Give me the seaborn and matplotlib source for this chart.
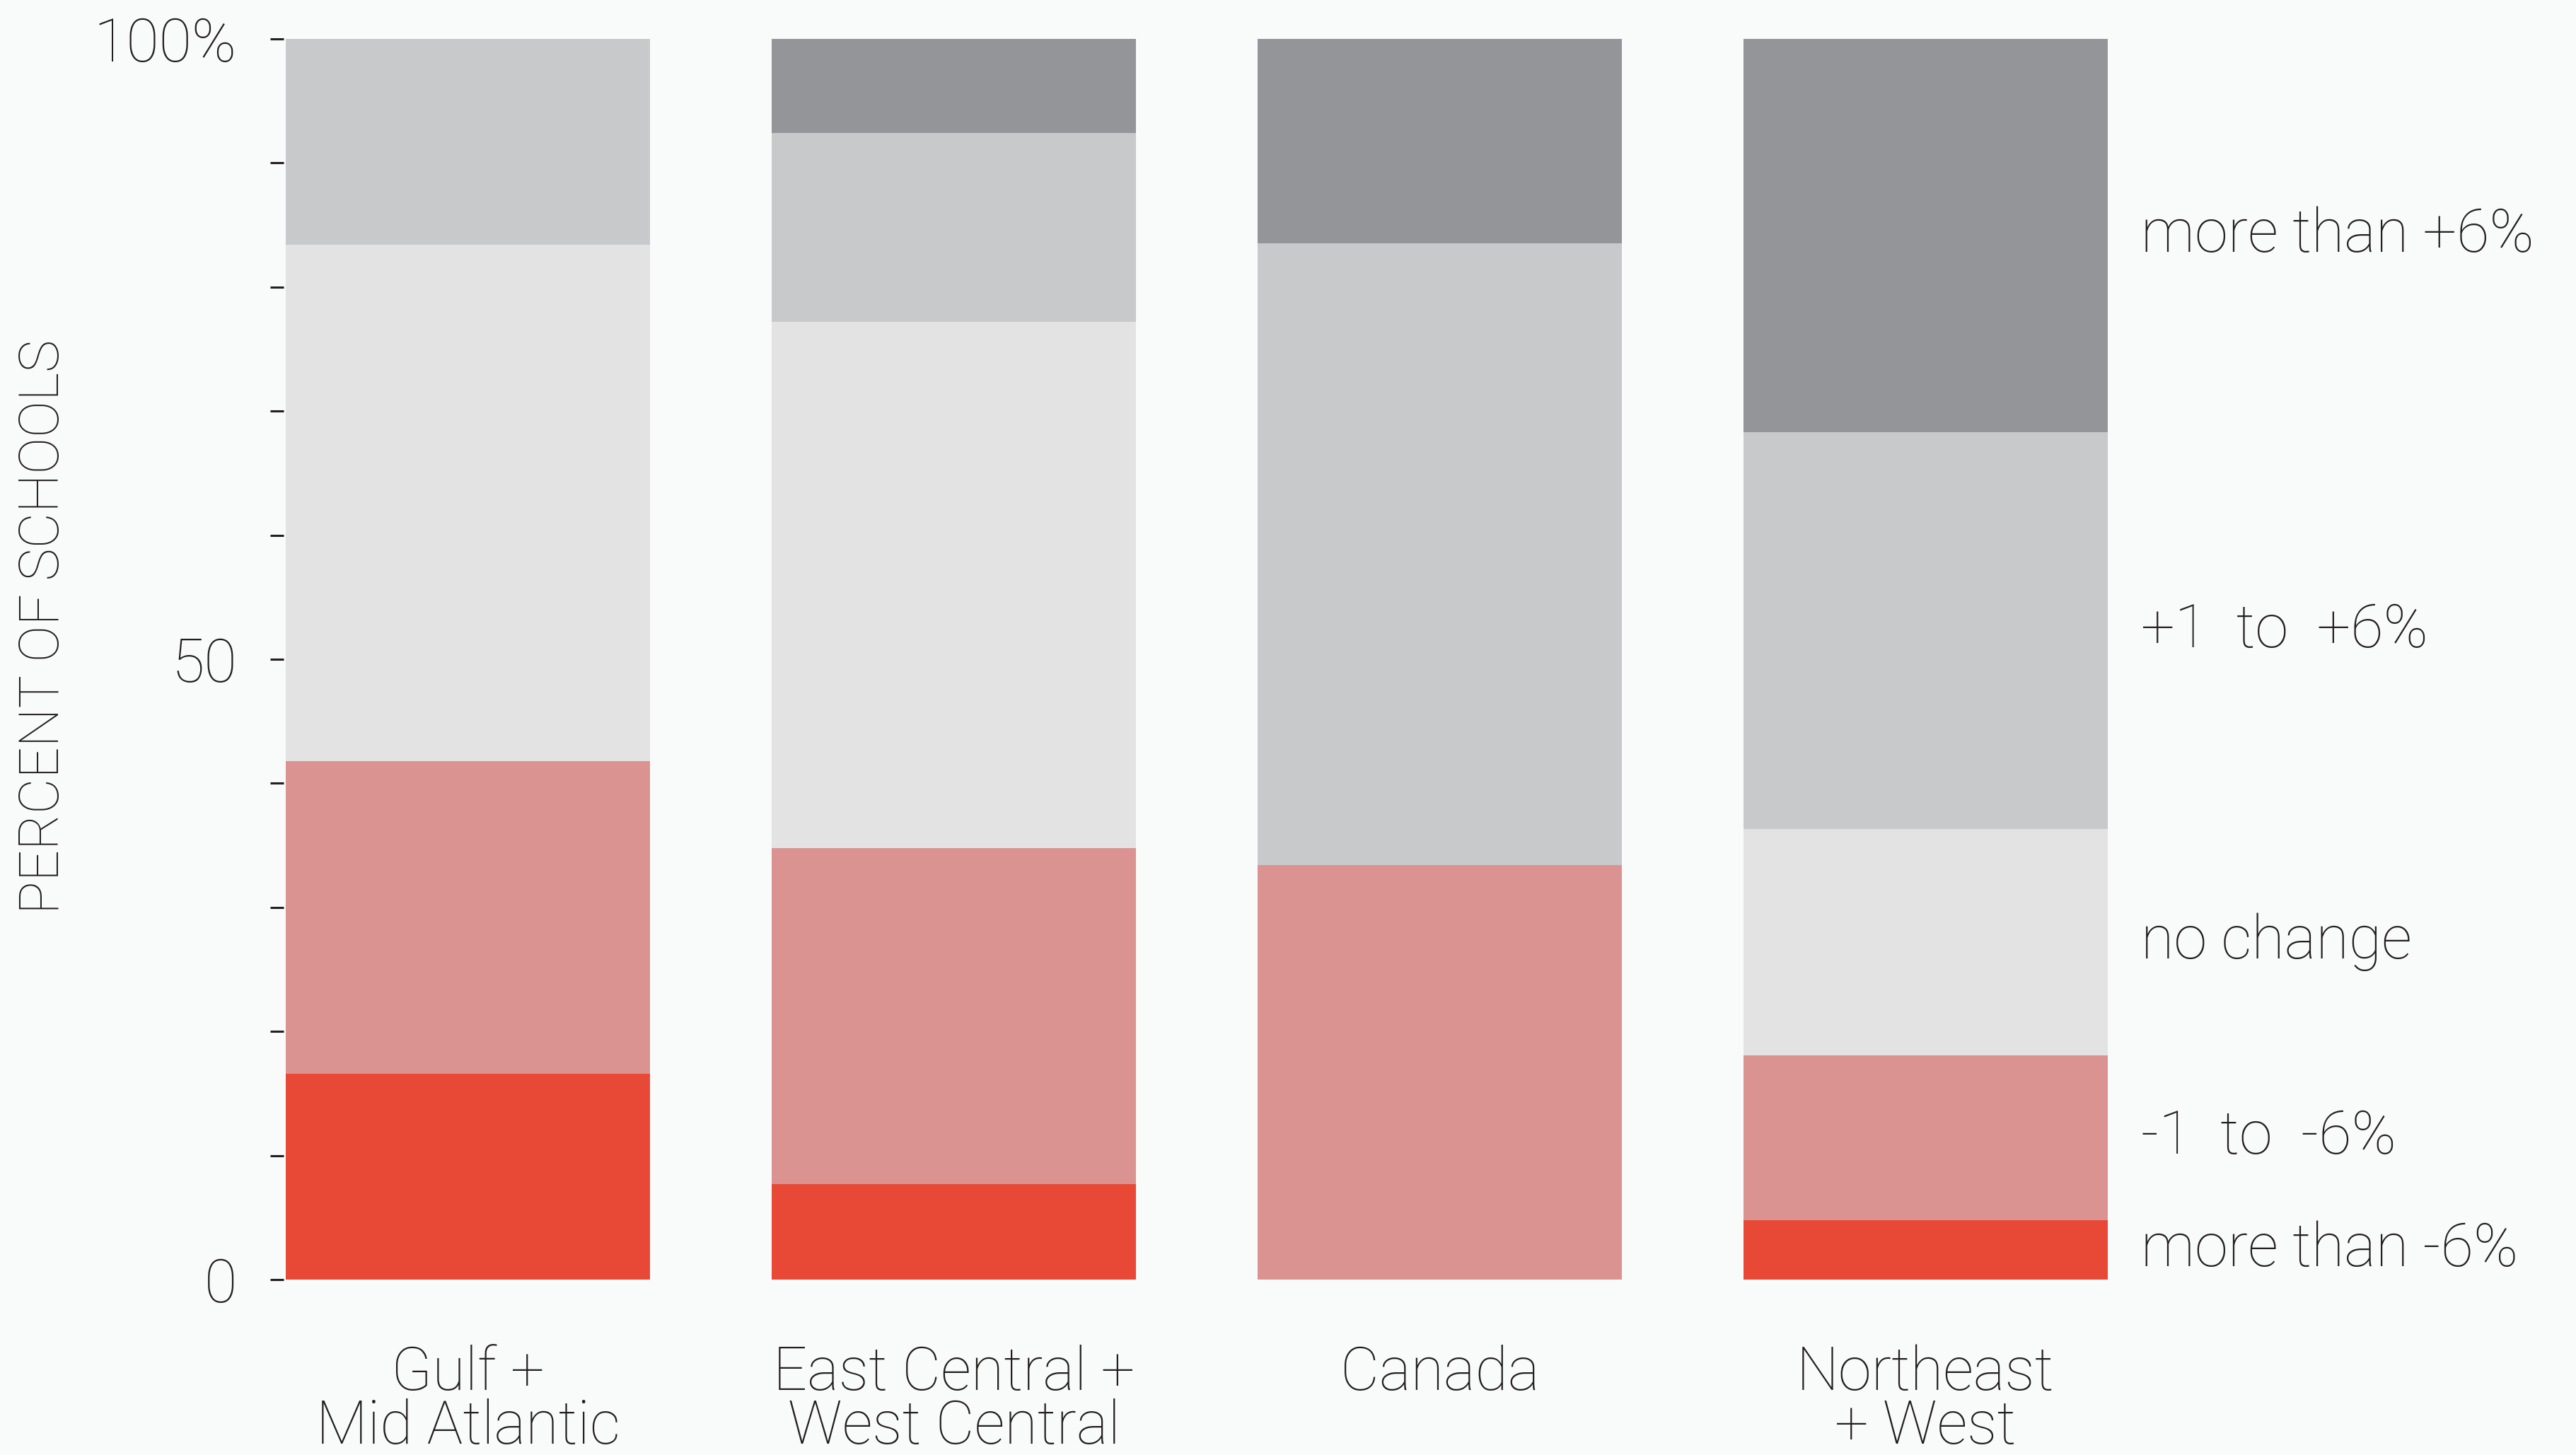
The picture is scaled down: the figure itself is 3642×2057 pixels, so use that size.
import matplotlib
matplotlib.use("Agg")
import matplotlib.pyplot as plt
import seaborn as sns
import numpy as np

# ---- data ----
categories = ["Gulf +\nMid Atlantic", "East Central +\nWest Central", "Canada", "Northeast\n+ West"]
series_labels = ["more than -6%", "-1  to  -6%", "no change", "+1  to  +6%", "more than +6%"]
more_than_minus6 = [16.6, 7.7, 0.0, 4.8]
minus1_to_minus6 = [25.2, 27.1, 33.4, 13.3]
no_change = [41.6, 42.4, 0.0, 18.2]
plus1_to_plus6 = [16.6, 15.2, 50.1, 32.0]
more_than_plus6 = [0.0, 7.6, 16.5, 31.7]
ytick_values = [0, 10, 20, 30, 40, 50, 60, 70, 80, 90, 100]
ytick_labels = ["0", "", "", "", "", "50", "", "", "", "", "100%"]

layers = [more_than_minus6, minus1_to_minus6, no_change, plus1_to_plus6, more_than_plus6]
colors = ["#E84936", "#DB9391", "#E3E3E3", "#C8C9CB", "#949599"]
bg = "#F9FBFA"
txt = "#231F20"

sns.set_theme(style="white")
plt.rcParams["font.family"] = ["Roboto", "DejaVu Sans"]
plt.rcParams["font.weight"] = "light"

W, H = 3642, 2057
fig = plt.figure(figsize=(W / 100, H / 100), dpi=100, facecolor=bg)
left_px, right_px, bot_px, top_px = 401, 2980, 1809, 55
ax = fig.add_axes([left_px / W, (H - bot_px) / H, (right_px - left_px) / W, (bot_px - top_px) / H])
ax.set_facecolor(bg)

cums = []
cum = np.zeros(len(categories))
for vals in layers:
    cum = cum + np.array(vals)
    cums.append(cum.copy())

for k in reversed(range(len(layers))):
    sns.barplot(x=categories, y=cums[k], order=categories, color=colors[k], saturation=1,
                width=0.75, linewidth=0, errorbar=None, ax=ax, zorder=2 + (len(layers) - k))

ax.set_xlim(-0.3794, 3.375)
ax.set_ylim(0, 100)
for s in ax.spines.values():
    s.set_visible(False)

fs = 61
ax.set_yticks(ytick_values)
ax.set_yticklabels(ytick_labels, fontweight="light")
ax.tick_params(axis="y", length=13.7, width=2.2, color=txt, pad=34, labelsize=fs, labelcolor=txt, left=True)
ax.set_xticks(range(len(categories)))
ax.set_xticklabels(categories, linespacing=0.92, fontweight="light")
ax.tick_params(axis="x", length=0, pad=66, labelsize=fs, labelcolor=txt)
ax.set_xlabel("")

ax.set_ylabel("PERCENT OF SCHOOLS", fontsize=56, color=txt, va="center", fontweight="light")
ax.yaxis.set_label_coords(-0.1314, 0.526)

# right-side labels, centered on the last bar's segments
last = [layer[-1] for layer in layers]
base = 0.0
for lab, v in zip(series_labels, last):
    ax.text(3.443, base + v / 2, lab, ha="left", va="center", fontsize=fs, color=txt,
            fontweight="light", clip_on=False)
    base += v

fig.savefig("out.png", dpi=100, facecolor=bg)
